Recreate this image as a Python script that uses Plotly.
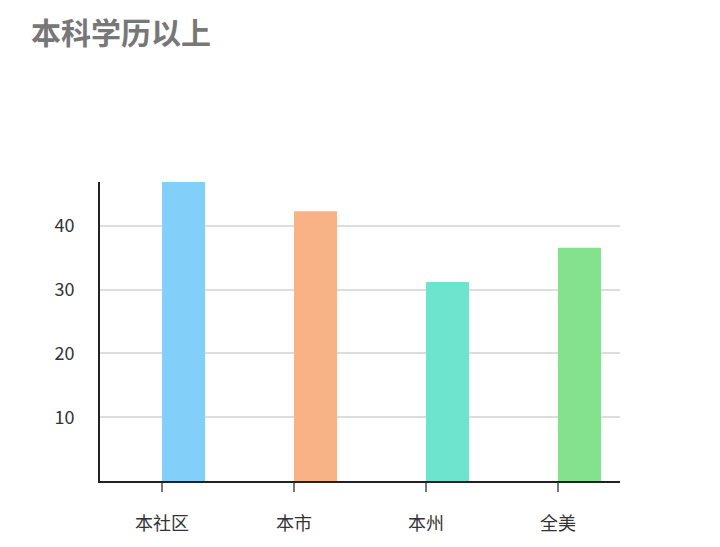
import plotly.graph_objects as go

# Data
categories = ["本社区", "本市", "本州", "全美"]
values = [46.9, 42.3, 31.2, 36.6]
colors = ["#82D0FA", "#F9B286", "#6DE4CD", "#84E18E"]
y_ticks = [10, 20, 30, 40]

positions = list(range(len(categories)))

fig = go.Figure(
    go.Bar(
        x=positions,
        y=values,
        marker_color=colors,
        marker_line_width=0,
        offset=0,
        width=0.326,
        hoverinfo="skip",
    )
)

# the page renders with an ~8px body offset, so margins compensate for it
fig.update_layout(
    width=720,
    height=547,
    margin=dict(l=92, r=108, t=174, b=74),
    paper_bgcolor="white",
    plot_bgcolor="white",
    showlegend=False,
    font=dict(family="Noto Sans CJK SC, Noto Sans, sans-serif", color="#333333", size=18),
    title=dict(
        text="<b>本科学历以上</b>",
        x=0.032,
        xanchor="left",
        y=0.953,
        yanchor="middle",
        font=dict(size=30, color="#777777"),
    ),
)

fig.update_xaxes(
    range=[-0.47, 3.47],
    tickmode="array",
    tickvals=positions,
    ticktext=categories,
    showgrid=False,
    zeroline=False,
    showline=True,
    linecolor="#222222",
    linewidth=2,
    ticks="outside",
    ticklen=9,
    tickwidth=1.5,
    tickcolor="#777777",
    ticklabelstandoff=16,
    tickfont=dict(size=18, color="#333333"),
)

fig.update_yaxes(
    range=[0, max(values)],
    tickmode="array",
    tickvals=y_ticks,
    showgrid=True,
    gridcolor="#dddddd",
    gridwidth=1.5,
    zeroline=False,
    showline=True,
    linecolor="#222222",
    linewidth=2,
    ticks="",
    ticklabelstandoff=20,
    tickfont=dict(size=18, color="#333333"),
)

fig.write_html("out.html")
